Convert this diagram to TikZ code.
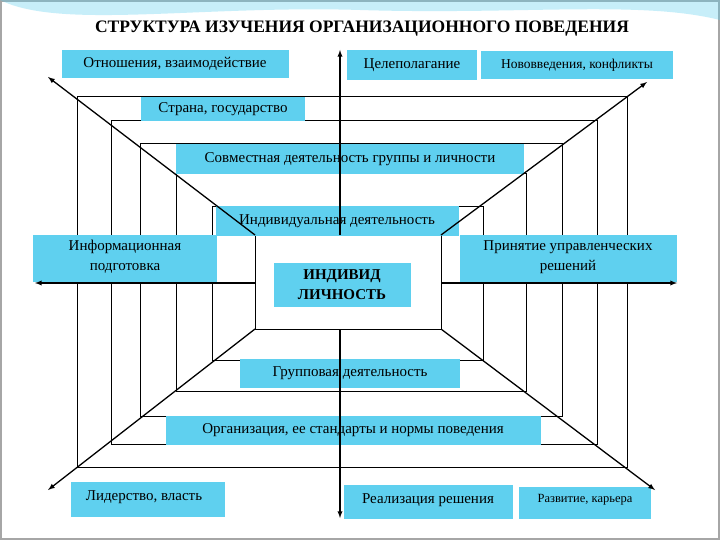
\documentclass[tikz,border=0pt]{standalone}
\usepackage{fontspec}
\setmainfont{Liberation Serif}
\definecolor{boxc}{HTML}{5FD0EF}
\begin{document}
\begin{tikzpicture}[x=1pt,y=-1pt,
  lbl/.style={draw=none, inner sep=0pt, align=center, font=\fontsize{15}{16}\selectfont},
  fr/.style={draw=black, line width=1pt},
  arr/.style={draw=black, line width=1.3pt, -latex}]
\useasboundingbox (0,0) rectangle (720,540);
\fill[white] (0,0) rectangle (720,540);
\draw[gray!70, line width=1.2pt] (1,1) rectangle (719,539);
\fill[boxc, opacity=0.35] (0,0) .. controls (60,30) and (200,5) .. (360,10) .. controls (520,15) and (640,0) .. (720,20) -- (720,0) -- cycle;
\node[font=\bfseries\fontsize{17.5}{19}\selectfont] (title) at (362,29) {СТРУКТУРА ИЗУЧЕНИЯ ОРГАНИЗАЦИОННОГО ПОВЕДЕНИЯ};
% nested frames
\draw[fr] (77,97) rectangle (627,467);
\draw[fr] (111,121) rectangle (597,444);
\draw[fr] (140,144) rectangle (562,416);
\draw[fr] (176,174) rectangle (526,391);
\draw[fr] (212,207) rectangle (483,360);
\draw[fr] (255,235) rectangle (441,329);
\coordinate (tl) at (255,235); \coordinate (tr) at (441,235);
\coordinate (bl) at (255,329); \coordinate (br) at (441,329);
% labels
\path[fill=boxc] (62,50) rectangle (289,78); \node[lbl] (a1) at (175,64) {Отношения, взаимодействие};
\path[fill=boxc] (347,50) rectangle (477,80); \node[lbl] (a2) at (412,65) {Целеполагание};
\path[fill=boxc] (481,51) rectangle (673,79); \node[lbl,font=\fontsize{13.5}{14}\selectfont] (a3) at (577,65) {Нововведения, конфликты};
\path[fill=boxc] (141,97) rectangle (305,121); \node[lbl] (b1) at (223,109) {Страна, государство};
\path[fill=boxc] (176,144) rectangle (524,174); \node[lbl] (b2) at (350,159) {Совместная деятельность группы и личности};
\path[fill=boxc] (216,206) rectangle (459,236); \node[lbl] (b3) at (337,221) {Индивидуальная деятельность};
\path[fill=boxc] (33,235) rectangle (217,282); \node[lbl,font=\fontsize{15}{20}\selectfont] (c1) at (125,257) {Информационная\\подготовка};
\path[fill=boxc] (274,263) rectangle (411,307); \node[lbl,font=\bfseries\fontsize{15}{20}\selectfont] (c2) at (342,285) {ИНДИВИД\\ЛИЧНОСТЬ};
\path[fill=boxc] (460,235) rectangle (677,282); \node[lbl,font=\fontsize{15}{20}\selectfont] (c3) at (568,257) {Принятие управленческих\\решений};
\path[fill=boxc] (240,359) rectangle (460,388); \node[lbl] (d1) at (350,373) {Групповая деятельность};
\path[fill=boxc] (166,416) rectangle (541,445); \node[lbl] (d2) at (353,430) {Организация, ее стандарты и нормы поведения};
\path[fill=boxc] (71,482) rectangle (225,517); \node[lbl] (e1) at (144,497) {Лидерство, власть};
\path[fill=boxc] (344,485) rectangle (513,519); \node[lbl] (e2) at (428,500) {Реализация решения};
\path[fill=boxc] (519,487) rectangle (651,519); \node[lbl,font=\fontsize{12.5}{13}\selectfont] (e3) at (585,500) {Развитие, карьера};
% arrow endpoints
\coordinate (pTL) at (48,77); \coordinate (pTR) at (647,82);
\coordinate (pBL) at (48,490); \coordinate (pBR) at (655,490);
\coordinate (up) at (340,50); \coordinate (down) at (340,518);
\coordinate (upS) at (340,235); \coordinate (downS) at (340,329);
\coordinate (lf) at (35,283); \coordinate (rt) at (677,283);
\coordinate (lfS) at (255,283); \coordinate (rtS) at (441,283);
\draw[arr] (tl) -- (pTL);
\draw[arr] (tr) -- (pTR);
\draw[arr] (bl) -- (pBL);
\draw[arr] (br) -- (pBR);
\draw[arr] (upS) -- (up);
\draw[arr] (downS) -- (down);
\draw[arr] (lfS) -- (lf);
\draw[arr] (rtS) -- (rt);
\end{tikzpicture}
\end{document}
